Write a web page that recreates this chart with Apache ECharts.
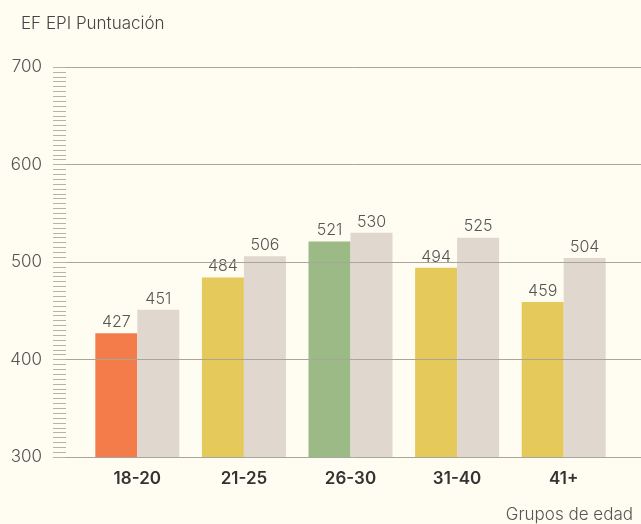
<!DOCTYPE html>
<html>
<head>
<meta charset="utf-8">
<script src="https://cdn.jsdelivr.net/npm/echarts@6/dist/echarts.min.js"></script>
<style>
  html, body { margin: 0; padding: 0; background: #fffdf1; }
  #chart { width: 641px; height: 524px; }
</style>
</head>
<body>
<div id="chart"></div>
<script>
// age groups and their scores
var categories = ['18-20', '21-25', '26-30', '31-40', '41+']
var ageScores = [427, 484, 521, 494, 459]
var compareScores = [451, 506, 530, 525, 504]
var ageColors = ['#f47c4b', '#e5c95b', '#9cba86', '#e5c95b', '#e5c95b']
var yTicks = [300, 400, 500, 600, 700]

var textColor = '#555555'
var lineColor = '#a8a59c'
var fontName = 'Inter'

var myChart = echarts.init(document.getElementById('chart'))
var option = {
  backgroundColor: '#fffdf1',
  animation: false,
  title: [{
    text: 'EF EPI Puntuación',
    left: 16,
    top: 10,
    textStyle: { color: '#444', fontSize: 17, fontWeight: 300, fontFamily: fontName }
  }, {
    text: 'Grupos de edad',
    right: 3,
    bottom: -4,
    textStyle: { color: textColor, fontSize: 17, fontWeight: 300, fontFamily: fontName }
  }],
  grid: [
    // grid that carries the y axis and gridlines (full width)
    { left: 66, right: 0, top: 67, bottom: 67 },
    // grid that holds the bars
    { left: 84, right: 24, top: 67, bottom: 67 }
  ],
  xAxis: [{
    gridIndex: 0,
    type: 'value',
    show: false
  }, {
    gridIndex: 1,
    type: 'category',
    data: categories,
    axisLine: { show: false },
    axisTick: { show: false },
    axisLabel: {
      margin: 13,
      color: '#333',
      fontSize: 17,
      fontWeight: 600,
      fontFamily: fontName
    }
  }],
  yAxis: [{
    gridIndex: 0,
    type: 'value',
    min: yTicks[0],
    max: yTicks[yTicks.length - 1],
    interval: 100,
    z: 10,
    axisLine: { show: false },
    axisTick: { show: true, length: 13, lineStyle: { color: '#b5b2a8' } },
    minorTick: { show: true, splitNumber: 20, length: 13, lineStyle: { color: '#b5b2a8' } },
    axisLabel: {
      margin: 24,
      color: textColor,
      fontSize: 17,
      fontWeight: 300,
      fontFamily: fontName
    },
    splitLine: { show: true, lineStyle: { color: lineColor, width: 1 } }
  }, {
    gridIndex: 1,
    type: 'value',
    min: yTicks[0],
    max: yTicks[yTicks.length - 1],
    show: false
  }],
  series: [{
    type: 'bar',
    xAxisIndex: 1,
    yAxisIndex: 1,
    barWidth: 42,
    barGap: '0%',
    data: ageScores.map(function (v, i) {
      return { value: v, itemStyle: { color: ageColors[i] } }
    }),
    label: {
      show: true,
      position: 'top',
      distance: 3,
      color: textColor,
      fontSize: 16,
      fontWeight: 300,
      fontFamily: fontName
    }
  }, {
    type: 'bar',
    xAxisIndex: 1,
    yAxisIndex: 1,
    barWidth: 42,
    barGap: '0%',
    itemStyle: { color: '#e0d7cf' },
    data: compareScores,
    label: {
      show: true,
      position: 'top',
      distance: 3,
      color: textColor,
      fontSize: 16,
      fontWeight: 300,
      fontFamily: fontName
    }
  }]
}
myChart.setOption(option)
</script>
</body>
</html>
